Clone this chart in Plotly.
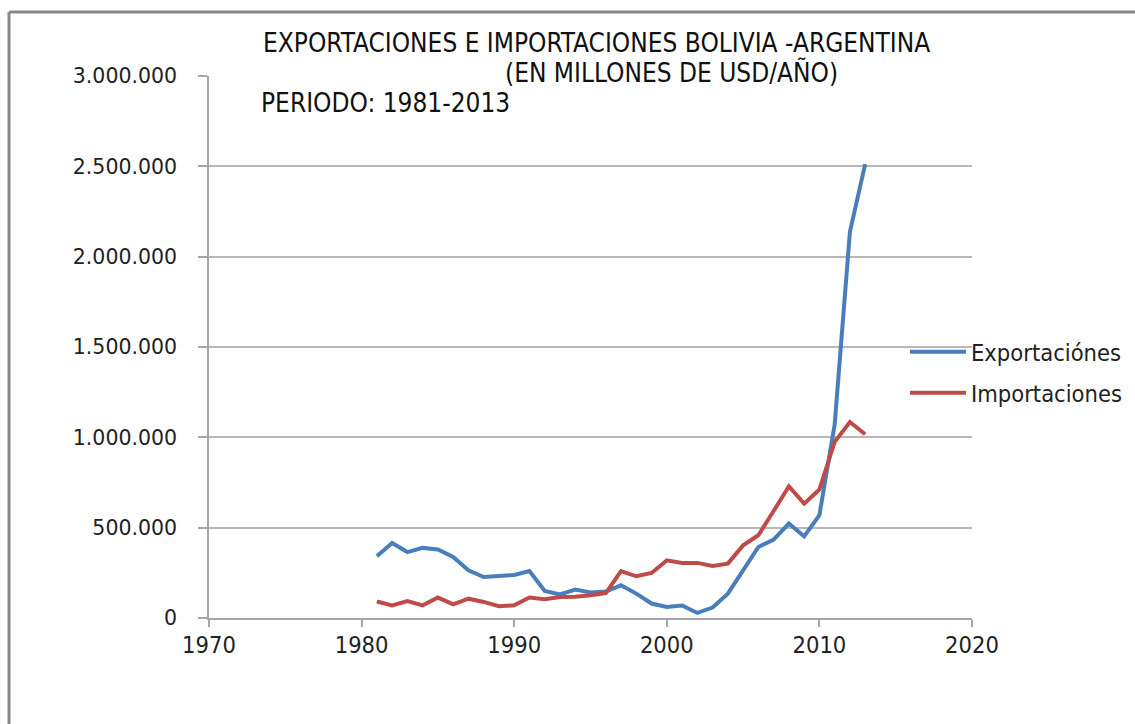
import plotly.graph_objects as go

years = list(range(1981, 2014))
exportaciones = [342000, 415000, 365000, 388000, 379000, 338000, 264000, 227000, 233000, 238000,
                 260000, 150000, 131000, 157000, 141000, 146000, 181000, 135000, 80000, 61000,
                 69000, 28000, 58000, 135000, 264000, 393000, 434000, 523000, 452000, 569000,
                 1070000, 2137000, 2512000]
importaciones = [91000, 70000, 94000, 70000, 113000, 76000, 107000, 89000, 65000, 70000,
                 113000, 104000, 116000, 117000, 126000, 138000, 260000, 231000, 249000, 319000,
                 305000, 305000, 288000, 301000, 402000, 458000, 592000, 729000, 633000, 711000,
                 975000, 1085000, 1017000]
series_names = ["Exportaciónes", "Importaciones"]
series_colors = ["#4A7EBB", "#BE4B48"]

W, H = 1135, 724
L, R, T, B = 209, 163, 76, 106
pw = W - L - R
ph = H - T - B

def px(xp):
    return (xp - L) / pw

def py(yp):
    return (H - B - yp) / ph

txt_font = "Liberation Sans Narrow, DejaVu Sans Condensed, Arial Narrow, sans-serif"

fig = go.Figure()
legend_ids = ["legend", "legend2"]
for name, vals, col, lg in zip(series_names, [exportaciones, importaciones], series_colors, legend_ids):
    fig.add_trace(go.Scatter(x=years, y=vals, mode="lines", name=name, legend=lg,
                             line=dict(color=col, width=4)))

legend_common = dict(xanchor="left", yanchor="middle",
                     font=dict(family=txt_font, size=23.5, color="#222"),
                     itemwidth=56, bgcolor="rgba(0,0,0,0)")

border = dict(color="#888888", width=3)

fig.update_layout(
    width=W, height=H,
    margin=dict(l=L, r=R, t=T, b=B, pad=0, autoexpand=False),
    paper_bgcolor="white", plot_bgcolor="white",
    separators=",.",
    showlegend=True,
    legend=dict(x=px(905), y=py(352), **legend_common),
    legend2=dict(x=px(905), y=py(393), **legend_common),
    xaxis=dict(range=[1970, 2020], dtick=10, tick0=1970, showgrid=False, zeroline=False,
               showline=True, linecolor="#A6A6A6", linewidth=1.5,
               ticks="outside", ticklen=7, tickcolor="#A6A6A6", tickwidth=1.5,
               tickfont=dict(family=txt_font, size=23.5, color="#222"),
               ticklabelstandoff=-2, automargin=False),
    yaxis=dict(range=[0, 3000000], dtick=500000, tick0=0, tickformat=",d",
               showgrid=True, gridcolor="#B8B8B8", gridwidth=1.5, zeroline=False,
               showline=True, linecolor="#A6A6A6", linewidth=1.5,
               ticks="outside", ticklen=9, tickcolor="#A6A6A6", tickwidth=1.5,
               tickfont=dict(family="DejaVu Sans", size=20.5, color="#222"),
               ticklabelstandoff=17, automargin=False),
    shapes=[
        dict(type="line", xref="paper", yref="paper",
             x0=px(9), x1=px(W + 5), y0=py(12), y1=py(12), line=border, layer="below"),
        dict(type="line", xref="paper", yref="paper",
             x0=px(9), x1=px(9), y0=py(12), y1=py(H + 5), line=border, layer="below"),
    ],
    annotations=[
        dict(text="EXPORTACIONES E IMPORTACIONES BOLIVIA -ARGENTINA", xref="paper", yref="paper",
             x=px(596), y=py(43), xanchor="center", yanchor="middle", showarrow=False,
             font=dict(family=txt_font, size=26, color="#111")),
        dict(text="(EN MILLONES DE USD/AÑO)", xref="paper", yref="paper",
             x=px(671), y=py(73), xanchor="center", yanchor="middle", showarrow=False,
             font=dict(family=txt_font, size=26, color="#111")),
        dict(text="PERIODO: 1981-2013", xref="paper", yref="paper",
             x=px(259), y=py(103), xanchor="left", yanchor="middle", showarrow=False,
             font=dict(family=txt_font, size=26, color="#111")),
    ],
)

fig.write_html("out.html", config={"displayModeBar": False},
               post_script="document.body.style.margin='0px';")
